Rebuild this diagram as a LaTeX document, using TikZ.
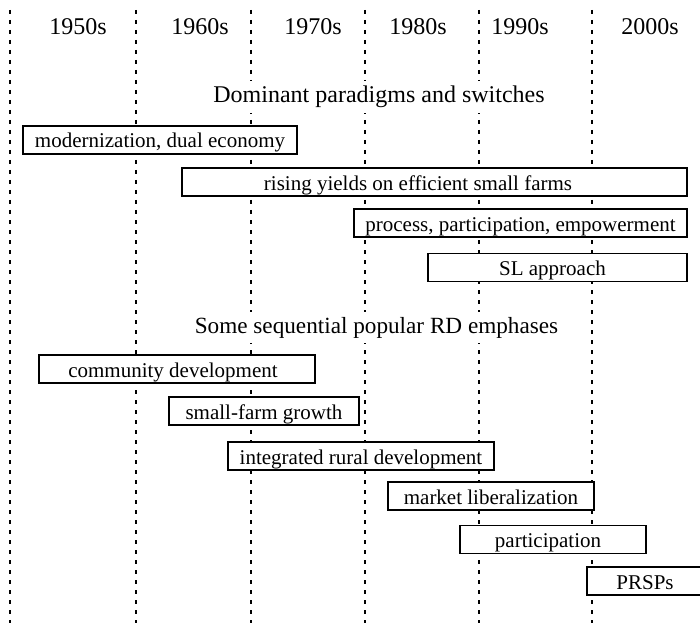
\documentclass[tikz,border=0pt]{standalone}
\usepackage{fontspec}
\setmainfont{Liberation Serif}
\begin{document}
\begin{tikzpicture}[x=1pt,y=-1pt,
  period/.style={font=\fontsize{24}{28}\selectfont, inner sep=0pt, anchor=base},
  heading/.style={fill=white, inner xsep=3pt, inner ysep=5pt, anchor=base},
  bar/.style={draw, line width=1.6pt, fill=white, minimum height=28pt, inner sep=0pt,
    text height=18pt, text depth=2pt, font=\fontsize{21}{24}\selectfont},
  gridline/.style={line width=1.6pt, dash pattern=on 4pt off 6pt}]
\clip (0,0) rectangle (700,628);
\foreach \x in {10,136,251,365,479,592} {
  \coordinate (top\x) at (\x,10);
  \coordinate (bot\x) at (\x,623);
  \draw[gridline] (top\x) -- (bot\x);
}
\node[period] (y50) at (78,35) {1950s};
\node[period] (y60) at (200,35) {1960s};
\node[period] (y70) at (313,35) {1970s};
\node[period] (y80) at (418,35) {1980s};
\node[period] (y90) at (520,35) {1990s};
\node[period] (y00) at (650,35) {2000s};

\node[heading, font=\fontsize{24}{28}\selectfont] (t1) at (379,103) {Dominant paradigms and switches};
\node[bar, minimum width=274pt] (b1) at (160,140) {modernization, dual economy};
\node[bar, minimum width=505pt] (b2) at (434.5,182) {rising yields on efficient small farms\kern33pt};
\node[bar, minimum width=333pt] (b3) at (520.5,223) {process, participation, empowerment};
\node[bar, minimum width=259pt] (b4) at (557.5,267.5) {SL approach\kern10pt};

\node[heading, font=\fontsize{23.2}{27}\selectfont] (t2) at (376.5,333) {Some sequential popular RD emphases};
\node[bar, minimum width=276pt] (e1) at (177,369) {community development\kern8pt};
\node[bar, minimum width=190pt] (e2) at (264,411) {small-farm growth};
\node[bar, minimum width=266pt] (e3) at (361,456) {integrated rural development};
\node[bar, minimum width=206pt] (e4) at (491,496) {market liberalization};
\node[bar, minimum width=186pt] (e5) at (553,539.5) {participation\kern10pt};
\node[bar, minimum width=116pt] (e6) at (645,581) {PRSPs};
\end{tikzpicture}
\end{document}
